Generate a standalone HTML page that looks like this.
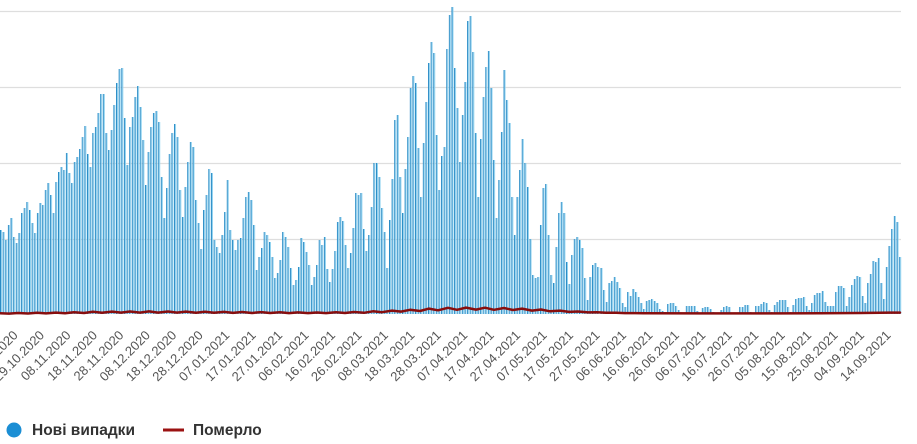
<!DOCTYPE html>
<html>
<head>
<meta charset="utf-8">
<style>
html,body{margin:0;padding:0;background:#fff;}
body{width:917px;height:444px;overflow:hidden;}
svg{display:block;}
.lbl{font-family:"Liberation Sans",Arial,sans-serif;font-size:13px;fill:#555;}
.leg{font-family:"Liberation Sans",Arial,sans-serif;font-size:15.5px;font-weight:bold;fill:#333;}
</style>
</head>
<body>
<svg width="917" height="444" viewBox="0 0 917 444" xmlns="http://www.w3.org/2000/svg">
<rect x="0" y="0" width="917" height="444" fill="#fff"/>
<g stroke="#dedede" stroke-width="1.2">
<line x1="0" y1="11.5" x2="901" y2="11.5"/>
<line x1="0" y1="87.5" x2="901" y2="87.5"/>
<line x1="0" y1="163.5" x2="901" y2="163.5"/>
<line x1="0" y1="239.5" x2="901" y2="239.5"/>
</g>
<defs>
<path id="bA" d="M0.5,314v-84m2.637,84v-82m2.637,82v-74m2.637,74v-89m2.637,89v-96m2.637,96v-77m2.637,77v-71m2.637,71v-81m2.637,81v-101m2.637,101v-106m2.637,106v-112m2.637,112v-104m2.637,104v-91m2.637,91v-81m2.637,81v-101m2.637,101v-111m2.637,111v-109m2.637,109v-124m2.637,124v-131m2.637,131v-119m2.637,119v-101m2.637,101v-132m2.637,132v-142m2.637,142v-147m2.637,147v-144m2.637,144v-161m2.637,161v-141m2.637,141v-131m2.637,131v-152m2.637,152v-157m2.637,157v-165m2.637,165v-177m2.637,177v-188m2.637,188v-160m2.637,160v-147m2.637,147v-181m2.637,181v-187m2.637,187v-201m2.637,201v-220m2.637,220v-220m2.637,220v-181m2.637,181v-164m2.637,164v-184m2.637,184v-209m2.637,209v-231m2.637,231v-245m2.637,245v-246m2.637,246v-196m2.637,196v-149m2.637,149v-187m2.637,187v-197m2.637,197v-217m2.637,217v-228m2.637,228v-207m2.637,207v-174m2.637,174v-129m2.637,129v-162m2.637,162v-187m2.637,187v-201m2.637,201v-203m2.637,203v-192m2.637,192v-137m2.637,137v-96m2.637,96v-126m2.637,126v-160m2.637,160v-181m2.637,181v-190m2.637,190v-177m2.637,177v-124m2.637,124v-97m2.637,97v-127m2.637,127v-152m2.637,152v-172m2.637,172v-167m2.637,167v-114m2.637,114v-91m2.637,91v-65m2.637,65v-104m2.637,104v-119m2.637,119v-145m2.637,145v-141m2.637,141v-74m2.637,74v-67m2.637,67v-61m2.637,61v-79m2.637,79v-102m2.637,102v-134m2.637,134v-84m2.637,84v-74m2.637,74v-64m2.637,64v-74m2.637,74v-76m2.637,76v-96m2.637,96v-117m2.637,117v-122m2.637,122v-114m2.637,114v-89m2.637,89v-44m2.637,44v-57m2.637,57v-66m2.637,66v-82m2.637,82v-79m2.637,79v-72m2.637,72v-57m2.637,57v-36m2.637,36v-41m2.637,41v-54m2.637,54v-82m2.637,82v-77m2.637,77v-67m2.637,67v-46m2.637,46v-29m2.637,29v-34m2.637,34v-47
M301,314v-76m2.603,76v-72m2.603,72v-62m2.603,62v-49m2.603,49v-29m2.603,29v-37m2.603,37v-49m2.603,49v-74m2.603,74v-69m2.603,69v-77m2.603,77v-45m2.603,45v-32m2.603,32v-45m2.603,45v-63m2.603,63v-92m2.603,92v-97m2.603,97v-93m2.603,93v-69m2.603,69v-46m2.603,46v-61m2.603,61v-86m2.603,86v-121m2.603,121v-119m2.603,119v-121m2.603,121v-85m2.603,85v-63m2.603,63v-79m2.603,79v-107m2.603,107v-151m2.603,151v-151m2.603,151v-137m2.603,137v-106m2.603,106v-82m2.603,82v-46m2.603,46v-94m2.603,94v-135m2.603,135v-194m2.603,194v-199m2.603,199v-137m2.603,137v-101m2.603,101v-145m2.603,145v-177m2.603,177v-226m2.603,226v-238m2.603,238v-231m2.603,231v-166m2.603,166v-117m2.603,117v-171m2.603,171v-212m2.603,212v-251m2.603,251v-272m2.603,272v-261m2.603,261v-179m2.603,179v-124m2.603,124v-158m2.603,158v-167m2.603,167v-265m2.603,265v-299m2.603,299v-307m2.603,307v-246m2.603,246v-206m2.603,206v-152m2.603,152v-199m2.603,199v-232m2.603,232v-293m2.603,293v-298m2.603,298v-262m2.603,262v-181m2.603,181v-117m2.603,117v-175m2.603,175v-217m2.603,217v-247m2.603,247v-263m2.603,263v-226m2.603,226v-154m2.603,154v-96m2.603,96v-134m2.603,134v-182m2.603,182v-244m2.603,244v-214m2.603,214v-191m2.603,191v-117m2.603,117v-79m2.603,79v-117m2.603,117v-144m2.603,144v-175m2.603,175v-151m2.603,151v-127m2.603,127v-75m2.603,75v-39m2.603,39v-36m2.603,36v-37m2.603,37v-89m2.603,89v-126m2.603,126v-130m2.603,130v-79m2.603,79v-39m2.603,39v-31m2.603,31v-67m2.603,67v-101m2.603,101v-112m2.603,112v-101m2.603,101v-52m2.603,52v-30m2.603,30v-59m2.603,59v-75m2.603,75v-77m2.603,77v-74m2.603,74v-66m2.603,66v-36m2.603,36v-14m2.603,14v-37m2.603,37v-49m2.603,49v-51m2.603,51v-47
M601,314v-46m2.667,46v-24m2.667,24v-12m2.667,12v-31m2.667,31v-33m2.667,33v-37m2.667,37v-32m2.667,32v-26m2.667,26v-11m2.667,11v-7m2.667,7v-22m2.667,22v-18m2.667,18v-25m2.667,25v-22m2.667,22v-17m2.667,17v-11m2.667,11v-5m2.667,5v-13m2.667,13v-14m2.667,14v-15m2.667,15v-13m2.667,13v-11m2.667,11v-5m2.667,5v-3m2.667,3v-2m2.667,2v-10m2.667,10v-11m2.667,11v-11m2.667,11v-8m2.667,8v-4m2.667,4v-1m2.667,1v-1m2.667,1v-8m2.667,8v-8m2.667,8v-8m2.667,8v-8m2.667,8v-3m2.667,3v-1m2.667,1v-6m2.667,6v-7m2.667,7v-7m2.667,7v-5m2.667,5v-2m2.667,2v-1m2.667,1v-1m2.667,1v-4m2.667,4v-7m2.667,7v-8m2.667,8v-7m2.667,7v-1m2.667,1v-1m2.667,1v-1m2.667,1v-7m2.667,7v-7m2.667,7v-9m2.667,9v-9m2.667,9v-2m2.667,2v-1m2.667,1v-8m2.667,8v-8m2.667,8v-10m2.667,10v-12m2.667,12v-11m2.667,11v-4m2.667,4v-2m2.667,2v-9m2.667,9v-12m2.667,12v-14m2.667,14v-14m2.667,14v-14m2.667,14v-7m2.667,7v-2m2.667,2v-9m2.667,9v-15m2.667,15v-16m2.667,16v-16m2.667,16v-17m2.667,17v-8m2.667,8v-4m2.667,4v-11m2.667,11v-19m2.667,19v-21m2.667,21v-21m2.667,21v-23m2.667,23v-12m2.667,12v-8m2.667,8v-8m2.667,8v-8m2.667,8v-22m2.667,22v-28m2.667,28v-28m2.667,28v-26m2.667,26v-8m2.667,8v-17m2.667,17v-29m2.667,29v-35m2.667,35v-38m2.667,38v-37m2.667,37v-18m2.667,18v-11m2.667,11v-31m2.667,31v-40m2.667,40v-53m2.667,53v-52m2.667,52v-56m2.667,56v-31m2.667,31v-15m2.667,15v-47m2.667,47v-68m2.667,68v-85m2.667,85v-98m2.667,98v-92m2.667,92v-57"/>
</defs>
<use href="#bA" stroke="#2b8cc6" stroke-width="1" fill="none"/>
<use href="#bA" transform="translate(1,0)" stroke="#92d3f0" stroke-width="1" fill="none"/>
<polyline fill="none" stroke="#880e0e" stroke-width="2.5" stroke-linejoin="round" stroke-linecap="round" points="0,313.2 9,313.6 18,313.0 28,313.5 37,312.8 46,313.4 56,312.6 65,313.2 74,312.3 84,313.0 93,311.8 102,312.8 112,311.6 121,312.6 130,311.5 140,312.6 149,311.4 158,312.6 168,311.5 177,312.6 186,311.6 196,312.7 205,311.7 214,312.8 224,311.9 233,312.9 242,312.0 252,313.0 261,312.1 270,313.0 280,312.3 289,313.1 298,312.4 308,313.1 317,312.5 326,313.1 336,312.3 345,313.0 354,312.0 364,312.8 373,311.3 382,312.2 392,310.6 401,311.6 410,309.8 420,311.0 429,308.6 438,310.3 448,307.8 457,309.8 466,307.6 476,309.6 485,307.7 494,309.8 504,308.0 513,310.0 522,308.6 532,310.6 541,309.5 550,311.3 560,310.6 569,311.9 578,311.5 588,312.4 597,312.3 606,312.8 616,312.8 625,313.1 634,313.1 644,313.3 700,313.4 780,313.4 820,313.2 860,313.0 880,312.7 900,312.6"/>
<g class="lbl" text-anchor="end">
<text x="18.6" y="336" transform="rotate(-45 18.6 336)">19.10.2020</text>
<text x="45.05" y="336" transform="rotate(-45 45.05 336)">29.10.2020</text>
<text x="71.5" y="336" transform="rotate(-45 71.5 336)">08.11.2020</text>
<text x="97.95" y="336" transform="rotate(-45 97.95 336)">18.11.2020</text>
<text x="124.4" y="336" transform="rotate(-45 124.4 336)">28.11.2020</text>
<text x="150.85" y="336" transform="rotate(-45 150.85 336)">08.12.2020</text>
<text x="177.3" y="336" transform="rotate(-45 177.3 336)">18.12.2020</text>
<text x="203.75" y="336" transform="rotate(-45 203.75 336)">28.12.2020</text>
<text x="230.2" y="336" transform="rotate(-45 230.2 336)">07.01.2021</text>
<text x="256.65" y="336" transform="rotate(-45 256.65 336)">17.01.2021</text>
<text x="283.1" y="336" transform="rotate(-45 283.1 336)">27.01.2021</text>
<text x="309.55" y="336" transform="rotate(-45 309.55 336)">06.02.2021</text>
<text x="336" y="336" transform="rotate(-45 336 336)">16.02.2021</text>
<text x="362.45" y="336" transform="rotate(-45 362.45 336)">26.02.2021</text>
<text x="388.9" y="336" transform="rotate(-45 388.9 336)">08.03.2021</text>
<text x="415.35" y="336" transform="rotate(-45 415.35 336)">18.03.2021</text>
<text x="441.8" y="336" transform="rotate(-45 441.8 336)">28.03.2021</text>
<text x="468.25" y="336" transform="rotate(-45 468.25 336)">07.04.2021</text>
<text x="494.7" y="336" transform="rotate(-45 494.7 336)">17.04.2021</text>
<text x="521.15" y="336" transform="rotate(-45 521.15 336)">27.04.2021</text>
<text x="547.6" y="336" transform="rotate(-45 547.6 336)">07.05.2021</text>
<text x="574.05" y="336" transform="rotate(-45 574.05 336)">17.05.2021</text>
<text x="600.5" y="336" transform="rotate(-45 600.5 336)">27.05.2021</text>
<text x="626.95" y="336" transform="rotate(-45 626.95 336)">06.06.2021</text>
<text x="653.4" y="336" transform="rotate(-45 653.4 336)">16.06.2021</text>
<text x="679.85" y="336" transform="rotate(-45 679.85 336)">26.06.2021</text>
<text x="706.3" y="336" transform="rotate(-45 706.3 336)">06.07.2021</text>
<text x="732.75" y="336" transform="rotate(-45 732.75 336)">16.07.2021</text>
<text x="759.2" y="336" transform="rotate(-45 759.2 336)">26.07.2021</text>
<text x="785.65" y="336" transform="rotate(-45 785.65 336)">05.08.2021</text>
<text x="812.1" y="336" transform="rotate(-45 812.1 336)">15.08.2021</text>
<text x="838.55" y="336" transform="rotate(-45 838.55 336)">25.08.2021</text>
<text x="865" y="336" transform="rotate(-45 865 336)">04.09.2021</text>
<text x="891.45" y="336" transform="rotate(-45 891.45 336)">14.09.2021</text>
</g>
<circle cx="14" cy="430" r="7.5" fill="#1b8ed4"/>
<text class="leg" x="32" y="435">Нові випадки</text>
<line x1="163" y1="430" x2="184" y2="430" stroke="#9b1212" stroke-width="3"/>
<text class="leg" x="193" y="435">Померло</text>
</svg>
</body>
</html>
